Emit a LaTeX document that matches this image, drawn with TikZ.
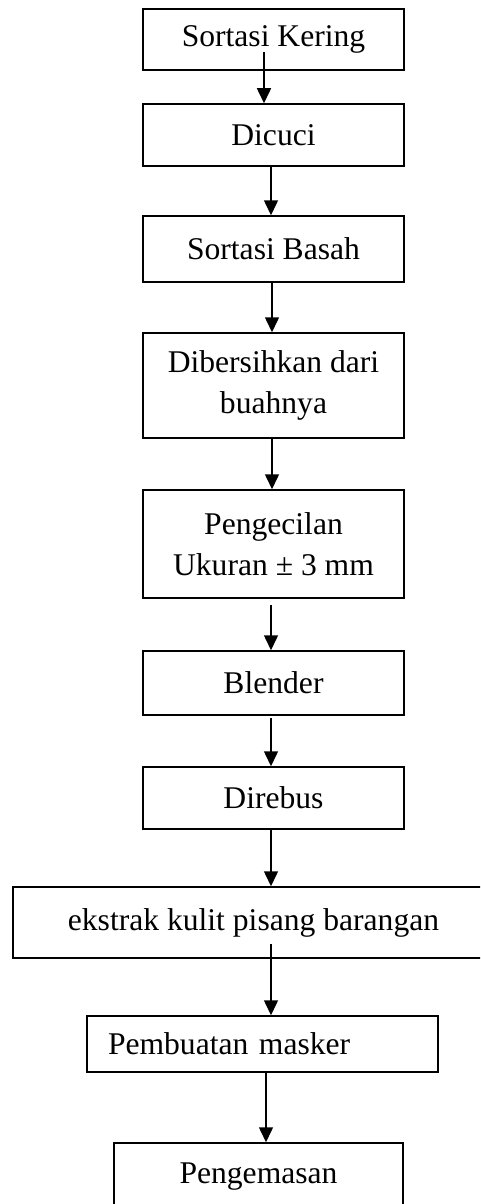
\documentclass[tikz,border=0pt]{standalone}
\usepackage{fontspec}
\setmainfont{Liberation Serif}
\usetikzlibrary{arrows.meta}
\begin{document}
\begin{tikzpicture}[x=1pt,y=-1pt,
  box/.style={draw, line width=1.5pt, inner sep=0pt, align=center,
    font=\fontsize{31.6}{41}\selectfont},
  arr/.style={line width=1.5pt, -{Triangle[width=14pt,length=15pt]}}]
\useasboundingbox (0,0) rectangle (480,1204);
\clip (0,0) rectangle (480,1204);
\node[box, minimum width=261pt, minimum height=61pt] (b1) at (273.5,39.5) {Sortasi Kering};
\node[box, minimum width=261pt, minimum height=62pt] (b2) at (273.5,135) {Dicuci};
\node[box, minimum width=261pt, minimum height=66pt] (b3) at (273.5,249) {Sortasi Basah};
\node[box, minimum width=261pt, minimum height=105pt] (b4) at (273.5,385.5) {Dibersihkan dari\\buahnya};
\node[box, minimum width=261pt, minimum height=108pt] (b5) at (273.5,544) {Pengecilan\\Ukuran ± 3 mm};
\node[box, minimum width=261pt, minimum height=64pt] (b6) at (273.5,683) {Blender};
\node[box, minimum width=261pt, minimum height=62pt] (b7) at (273.5,798) {Direbus};
\node[box, minimum width=469pt, minimum height=71pt] (b8) at (247.5,922.5) {\hspace*{12pt}ekstrak kulit pisang barangan};
\node[box, minimum height=56pt, text width=309pt, inner xsep=21pt, align=left] (b9) at (262.5,1044) {Pembuatan masker};
\node[box, minimum width=289pt, minimum height=67pt] (b10) at (258.5,1176.5) {Pengemasan};
\coordinate (s1) at (264,52);
\coordinate (s2) at (271,0);
\coordinate (s3) at (272,0);
\coordinate (s4) at (272,0);
\coordinate (s5) at (271,605);
\coordinate (s6) at (271,718);
\coordinate (s7) at (271,0);
\coordinate (s8) at (271,944);
\coordinate (s9) at (266,0);
\draw[arr] (s1) -- (s1 |- b2.north);
\draw[arr] (s2 |- b2.south) -- (s2 |- b3.north);
\draw[arr] (s3 |- b3.south) -- (s3 |- b4.north);
\draw[arr] (s4 |- b4.south) -- (s4 |- b5.north);
\draw[arr] (s5) -- (s5 |- b6.north);
\draw[arr] (s6) -- (s6 |- b7.north);
\draw[arr] (s7 |- b7.south) -- (s7 |- b8.north);
\draw[arr] (s8) -- (s8 |- b9.north);
\draw[arr] (s9 |- b9.south) -- (s9 |- b10.north);
\end{tikzpicture}
\end{document}
